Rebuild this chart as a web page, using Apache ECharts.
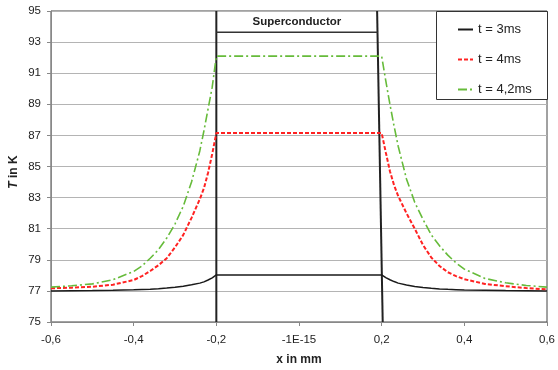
<!DOCTYPE html>
<html>
<head>
<meta charset="utf-8">
<script src="https://cdn.jsdelivr.net/npm/echarts@6/dist/echarts.min.js"></script>
<style>
  html, body { margin: 0; padding: 0; background: #fff; }
  #chart { width: 558px; height: 370px; }
</style>
</head>
<body>
<div id="chart"></div>
<script>
// Positions along the sample (mm)
const xs = [
  -0.6, -0.55, -0.5, -0.45, -0.4, -0.38, -0.36, -0.34, -0.32, -0.3, -0.28, -0.26, -0.24, -0.23, -0.22, -0.21, -0.2,
   0.2,  0.21, 0.22,  0.23, 0.24,  0.26,  0.28,  0.3,  0.32, 0.34,  0.36,  0.38,  0.4,  0.45,  0.5,  0.55,  0.6
];

// Temperature profiles (K)
const t3ms = [
  77.0, 77.01, 77.02, 77.04, 77.07, 77.09, 77.11, 77.14, 77.18, 77.23, 77.3, 77.39, 77.5, 77.58, 77.7, 77.84, 78.03,
  78.03, 77.85, 77.72, 77.6, 77.5, 77.38, 77.28, 77.22, 77.17, 77.13, 77.1, 77.08, 77.06, 77.04, 77.02, 77.01, 77.0
];
const t4ms = [
  77.17, 77.21, 77.27, 77.4, 77.7, 77.95, 78.28, 78.65, 79.1, 79.8, 80.6, 81.7, 82.9, 83.6, 84.6, 85.8, 87.15,
  87.15, 85.9, 84.7, 83.8, 83.1, 82.0, 81.0, 79.95, 79.15, 78.6, 78.2, 77.95, 77.75, 77.45, 77.3, 77.18, 77.1
];
const t42ms = [
  77.24, 77.33, 77.45, 77.72, 78.25, 78.6, 79.1, 79.65, 80.4, 81.3, 82.45, 84.0, 86.0, 87.3, 88.7, 90.1, 92.1,
  92.1, 90.5, 89.0, 87.6, 86.3, 84.2, 82.7, 81.6, 80.6, 79.9, 79.3, 78.8, 78.4, 77.8, 77.52, 77.35, 77.24
];

const seriesNames = ['t = 3ms', 't = 4ms', 't = 4,2ms'];
const xTickLabels = ['-0,6', '-0,4', '-0,2', '-1E-15', '0,2', '0,4', '0,6'];
const yTicks = [75, 77, 79, 81, 83, 85, 87, 89, 91, 93, 95];

// Superconductor edges (mm) and the label strip's lower edge (K)
const scEdges = [-0.2, 0.2];
const scLabelLine = 93.63;

const FONT = '"Liberation Sans", Arial, sans-serif';

const pairs = vals => xs.map((x, i) => [x, vals[i]]);

const chart = echarts.init(document.getElementById('chart'), null, { renderer: 'canvas' });

const yMin = yTicks[0], yMax = yTicks[yTicks.length - 1];

const legendBox = {
  type: 'rect', z: 5,
  shape: { x: 436.5, y: 11.5, width: 111, height: 88 },
  style: { fill: '#fff', stroke: '#333', lineWidth: 1 }
};

// Vertical axis title with an italic symbol
const yTitle = {
  type: 'text', z: 6, x: 14, y: 172, rotation: Math.PI / 2,
  style: {
    text: '{i|T} in K', fontFamily: FONT, fontSize: 12, fontWeight: 'bold', fill: '#222',
    align: 'center', verticalAlign: 'middle',
    rich: { i: { fontFamily: FONT, fontSize: 12, fontWeight: 'bold', fontStyle: 'italic', fill: '#222' } }
  }
};

const option = {
  animation: false,
  backgroundColor: '#fff',
  grid: {
    left: 51, top: 11, width: 496, height: 311,
    outerBoundsMode: 'none', containLabel: false,
    show: true, borderColor: '#444', borderWidth: 1, backgroundColor: 'transparent'
  },
  xAxis: {
    type: 'value', min: -0.6, max: 0.6, interval: 0.2,
    name: 'x in mm', nameLocation: 'middle', nameGap: 32,
    nameTextStyle: { fontFamily: FONT, fontSize: 12, fontWeight: 'bold', color: '#222' },
    axisLine: { onZero: false, lineStyle: { color: '#888', width: 1 } },
    axisTick: { show: true, length: 4, lineStyle: { color: '#888' } },
    axisLabel: {
      margin: 12, fontFamily: FONT, fontSize: 11.5, color: '#222',
      formatter: (v, i) => xTickLabels[i] !== undefined ? xTickLabels[i] : ''
    },
    splitLine: { show: false }
  },
  yAxis: {
    type: 'value', min: yMin, max: yMax, interval: 2,
    axisLine: { show: true, onZero: false, lineStyle: { color: '#888', width: 1 } },
    axisTick: { show: true, length: 4, lineStyle: { color: '#888' } },
    axisLabel: { margin: 10, fontFamily: FONT, fontSize: 11.5, color: '#222' },
    splitLine: { show: true, lineStyle: { color: '#b4b4b4', width: 1 } }
  },
  legend: {
    orient: 'vertical', left: 452, top: 18, z: 10,
    itemWidth: 15, itemHeight: 10, itemGap: 17,
    itemStyle: { opacity: 0 },
    textStyle: { fontFamily: FONT, fontSize: 13, color: '#222' },
    data: seriesNames
  },
  graphic: [legendBox, yTitle],
  series: [
    // Superconductor boundaries and label strip
    {
      type: 'line', silent: true, symbol: 'none', z: 3,
      lineStyle: { color: '#222', width: 2 },
      data: [[scEdges[0], yMax], [scEdges[0], yMin]]
    },
    {
      type: 'line', silent: true, symbol: 'none', z: 3,
      lineStyle: { color: '#222', width: 2 },
      data: [[scEdges[1] - 0.011, yMax], [scEdges[1] + 0.0025, yMin]]
    },
    {
      type: 'line', silent: true, symbol: 'none', z: 3,
      lineStyle: { color: '#333', width: 1.5 },
      data: [[scEdges[0], scLabelLine], [scEdges[1] - 0.0095, scLabelLine]]
    },
    {
      name: seriesNames[0], type: 'line', symbol: 'none', z: 4,
      lineStyle: { color: '#1a1a1a', width: 1.5, type: 'solid' },
      itemStyle: { color: '#1a1a1a' },
      data: pairs(t3ms)
    },
    {
      name: seriesNames[1], type: 'line', symbol: 'none', z: 4,
      lineStyle: { color: '#f22', width: 2, type: [4, 2] },
      itemStyle: { color: '#f22' },
      data: pairs(t4ms)
    },
    {
      name: seriesNames[2], type: 'line', symbol: 'none', z: 4,
      lineStyle: { color: '#66bb3a', width: 1.6, type: [9, 3, 2, 3] },
      itemStyle: { color: '#66bb3a' },
      data: pairs(t42ms)
    }
  ]
};

chart.setOption(option);

// Label inside the superconductor strip
const labelPos = chart.convertToPixel({ gridIndex: 0 }, [(scEdges[0] + scEdges[1]) / 2 - 0.005, (yMax + scLabelLine) / 2]);
chart.setOption({
  graphic: [
    legendBox,
    yTitle,
    {
      type: 'text', z: 6, x: labelPos[0], y: labelPos[1],
      style: {
        text: 'Superconductor', fontFamily: FONT, fontSize: 11.5, fontWeight: 'bold',
        fill: '#222', align: 'center', verticalAlign: 'middle'
      }
    }
  ]
}, { replaceMerge: ['graphic'] });
</script>
</body>
</html>
